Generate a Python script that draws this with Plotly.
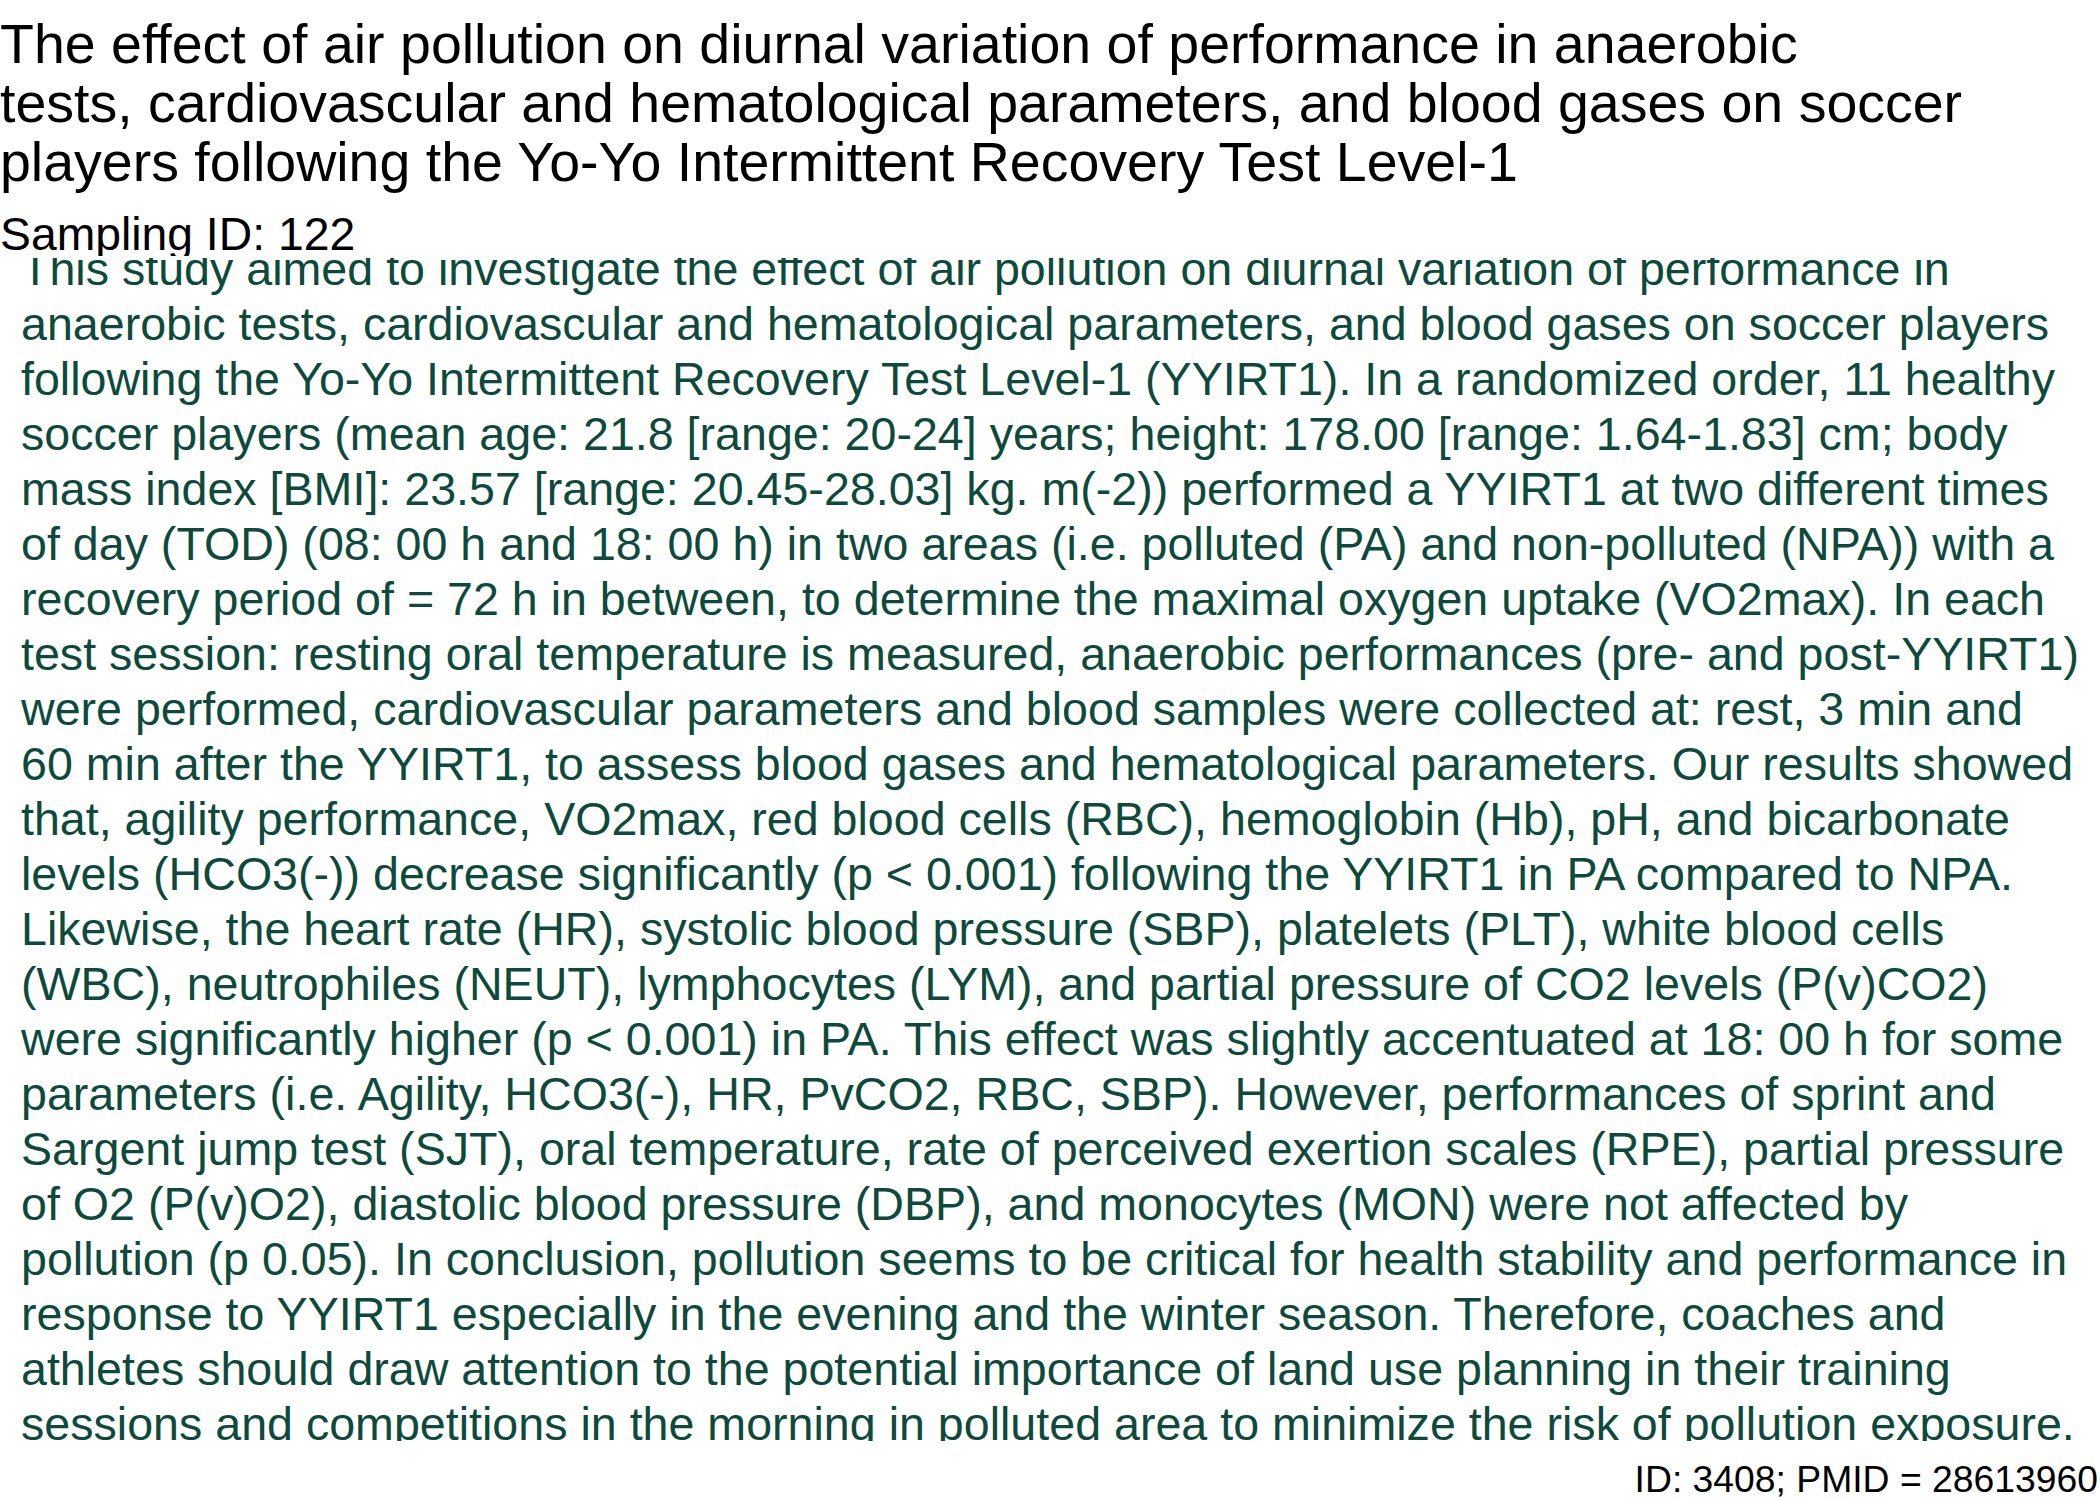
import plotly.graph_objects as go

W, H = 2100, 1500

title_lines = [
    "The effect of air pollution on diurnal variation of performance in anaerobic",
    "tests, cardiovascular and hematological parameters, and blood gases on soccer",
    "players following the Yo-Yo Intermittent Recovery Test Level-1",
]
subtitle = "Sampling ID: 122"
abstract_lines = [
    "This study aimed to investigate the effect of air pollution on diurnal variation of performance in",
    "anaerobic tests, cardiovascular and hematological parameters, and blood gases on soccer players",
    "following the Yo-Yo Intermittent Recovery Test Level-1 (YYIRT1). In a randomized order, 11 healthy",
    "soccer players (mean age: 21.8 [range: 20-24] years; height: 178.00 [range: 1.64-1.83] cm; body",
    "mass index [BMI]: 23.57 [range: 20.45-28.03] kg. m(-2)) performed a YYIRT1 at two different times",
    "of day (TOD) (08: 00 h and 18: 00 h) in two areas (i.e. polluted (PA) and non-polluted (NPA)) with a",
    "recovery period of = 72 h in between, to determine the maximal oxygen uptake (VO2max). In each",
    "test session: resting oral temperature is measured, anaerobic performances (pre- and post-YYIRT1)",
    "were performed, cardiovascular parameters and blood samples were collected at: rest, 3 min and",
    "60 min after the YYIRT1, to assess blood gases and hematological parameters. Our results showed",
    "that, agility performance, VO2max, red blood cells (RBC), hemoglobin (Hb), pH, and bicarbonate",
    "levels (HCO3(-)) decrease significantly (p < 0.001) following the YYIRT1 in PA compared to NPA.",
    "Likewise, the heart rate (HR), systolic blood pressure (SBP), platelets (PLT), white blood cells",
    "(WBC), neutrophiles (NEUT), lymphocytes (LYM), and partial pressure of CO2 levels (P(v)CO2)",
    "were significantly higher (p < 0.001) in PA. This effect was slightly accentuated at 18: 00 h for some",
    "parameters (i.e. Agility, HCO3(-), HR, PvCO2, RBC, SBP). However, performances of sprint and",
    "Sargent jump test (SJT), oral temperature, rate of perceived exertion scales (RPE), partial pressure",
    "of O2 (P(v)O2), diastolic blood pressure (DBP), and monocytes (MON) were not affected by",
    "pollution (p 0.05). In conclusion, pollution seems to be critical for health stability and performance in",
    "response to YYIRT1 especially in the evening and the winter season. Therefore, coaches and",
    "athletes should draw attention to the potential importance of land use planning in their training",
    "sessions and competitions in the morning in polluted area to minimize the risk of pollution exposure.",
]
footer = "ID: 3408; PMID = 28613960"

FONT = "Liberation Sans, Arial, Helvetica, sans-serif"
GREEN = "#0D4A3C"

# page layout in pixels
TITLE_SIZE, TITLE_BASE, TITLE_STEP = 55.5, 62.5, 59.5
SUB_SIZE, SUB_BASE = 46.3, 250
HEADER_CLIP = 256
ABS_SIZE, ABS_BASE, ABS_STEP, ABS_LEFT = 46.6, 285, 55, 21
ABS_TOP, ABS_BOTTOM = 258, 1441
FOOT_SIZE, FOOT_BASE = 37.3, 1492.5


def mid(baseline, size):
    # 'middle' text in plotly sits with its baseline 0.25em below the point
    return baseline - 0.25 * size


def text_trace(x, y, text, size, color, pos, xa, ya, clip=True):
    return go.Scatter(
        x=x, y=y, text=text, mode="text", textposition=pos,
        textfont=dict(family=FONT, size=size, color=color),
        cliponaxis=clip, hoverinfo="skip", xaxis=xa, yaxis=ya)


fig = go.Figure()

# abstract, one row per line, clipped to its panel
rows = list(range(1, len(abstract_lines) + 1))
fig.add_trace(text_trace([ABS_LEFT] * len(rows), rows, abstract_lines,
                         ABS_SIZE, GREEN, "middle right", "x", "y"))
top_val = 1 - (mid(ABS_BASE, ABS_SIZE) - ABS_TOP) / ABS_STEP
bottom_val = top_val + (ABS_BOTTOM - ABS_TOP) / ABS_STEP

# header: title + sampling id
title_y = [mid(TITLE_BASE + i * TITLE_STEP, TITLE_SIZE) for i in range(len(title_lines))]
fig.add_trace(text_trace([0] * len(title_lines), title_y, title_lines,
                         TITLE_SIZE, "black", "middle right", "x2", "y2"))
fig.add_trace(text_trace([0], [mid(SUB_BASE, SUB_SIZE)], [subtitle],
                         SUB_SIZE, "black", "middle right", "x2", "y2"))

# footer id, right aligned
fig.add_trace(text_trace([W - 2], [mid(FOOT_BASE, FOOT_SIZE)], [footer],
                         FOOT_SIZE, "black", "middle left", "x3", "y3", clip=False))

hidden = dict(visible=False, showgrid=False, zeroline=False, fixedrange=True)
fig.update_layout(
    width=W, height=H,
    margin=dict(l=0, r=0, t=0, b=0),
    paper_bgcolor="white", plot_bgcolor="white",
    showlegend=False, hovermode=False,
    xaxis=dict(hidden, domain=[0, 1], range=[0, W], anchor="y"),
    yaxis=dict(hidden, domain=[1 - ABS_BOTTOM / H, 1 - ABS_TOP / H],
               range=[bottom_val, top_val], anchor="x"),
    xaxis2=dict(hidden, domain=[0, 1], range=[0, W], anchor="y2"),
    yaxis2=dict(hidden, domain=[1 - HEADER_CLIP / H, 1],
                range=[HEADER_CLIP, 0], anchor="x2"),
    xaxis3=dict(hidden, domain=[0, 1], range=[0, W], anchor="y3"),
    yaxis3=dict(hidden, domain=[0, 1 - ABS_BOTTOM / H],
                range=[H, ABS_BOTTOM], anchor="x3"),
)

# drop the browser's default body margin so the page starts at 0,0
fig.write_html("out.html", config={"displayModeBar": False},
               post_script="document.body.style.margin = '0';")
